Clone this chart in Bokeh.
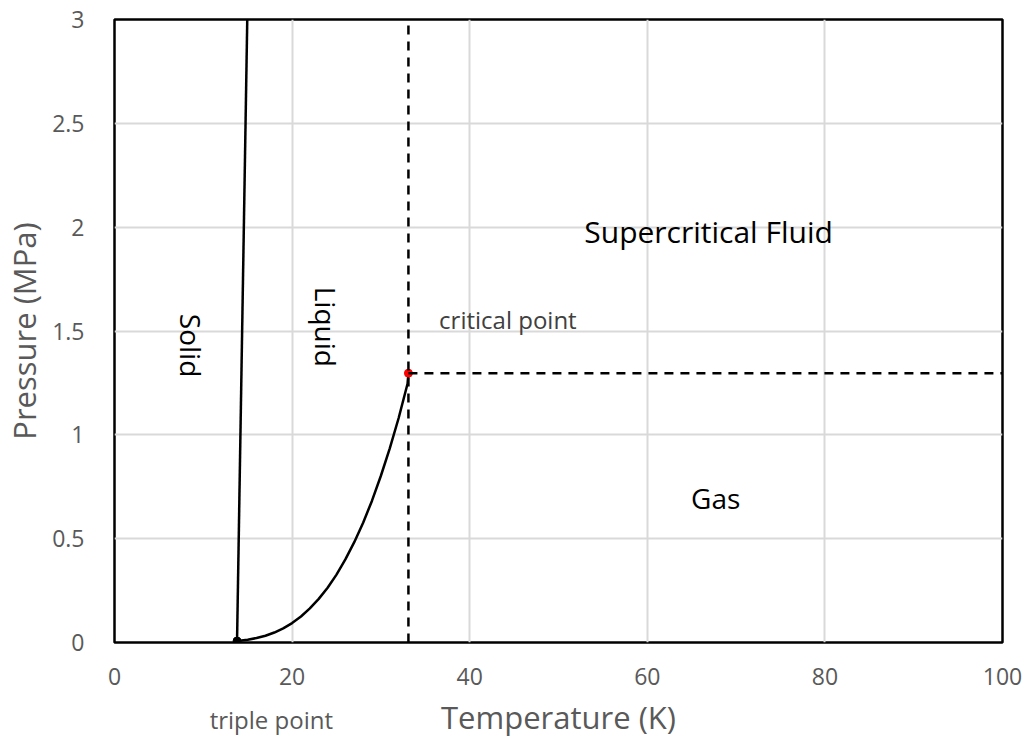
from bokeh.plotting import figure
from bokeh.models import Range1d, Label, FixedTicker, LinearAxis
from bokeh.embed import file_html
from bokeh.resources import INLINE
import math

# Data
melt_T = [13.8, 14.95]
melt_P = [0.007, 3.0]
vap_T = [13.8, 15, 16, 17, 18, 19, 20, 21, 22, 23, 24, 25, 26, 27, 28, 29, 30, 31, 32, 33, 33.1]
vap_P = [0.007, 0.0134, 0.0215, 0.0327, 0.0481, 0.0681, 0.0935, 0.125, 0.164, 0.210, 0.264,
         0.327, 0.400, 0.483, 0.577, 0.683, 0.803, 0.935, 1.081, 1.246, 1.297]
triple_T, triple_P = 13.8, 0.007
crit_T, crit_P = 33.1, 1.297
x_ticks = [0, 20, 40, 60, 80, 100]
y_ticks = [0, 0.5, 1, 1.5, 2, 2.5, 3]
triple_label_T = 17.66

FONT = "Open Sans"
GRAY = "#595959"

p = figure(width=1028, height=740, output_backend="svg", toolbar_location=None,
           x_range=Range1d(0, 100), y_range=Range1d(0, 3),
           min_border_left=113, min_border_right=26, min_border_top=19, min_border_bottom=98)
p.outline_line_color = "black"
p.outline_line_width = 2.5
p.background_fill_color = "white"
p.border_fill_color = "white"

# second bottom axis carrying "triple point" and the axis title on the same row
xaxis2 = LinearAxis(ticker=FixedTicker(ticks=[triple_label_T]),
                    major_label_overrides={triple_label_T: "triple point"})
p.add_layout(xaxis2, "below")

for ax in (p.xaxis[0], p.yaxis[0], xaxis2):
    ax.axis_line_color = None
    ax.major_tick_line_color = None
    ax.minor_tick_line_color = None
    ax.major_label_text_font = FONT
    ax.major_label_text_font_size = "23px"
    ax.major_label_text_color = GRAY
    ax.axis_label_text_font = FONT
    ax.axis_label_text_font_size = "31px"
    ax.axis_label_text_font_style = "normal"
    ax.axis_label_text_color = GRAY

xaxis2.major_label_text_font_size = "24px"
p.xaxis[0].ticker = FixedTicker(ticks=x_ticks)
p.yaxis.ticker = FixedTicker(ticks=y_ticks)
p.yaxis.major_label_overrides = {0: "0", 0.5: "0.5", 1: "1", 1.5: "1.5", 2: "2", 2.5: "2.5", 3: "3"}
xaxis2.axis_label = "Temperature (K)"
p.yaxis.axis_label = "Pressure (MPa)"
p.xaxis[0].major_label_standoff = 19
p.yaxis.major_label_standoff = 24
xaxis2.major_label_standoff = 9
xaxis2.axis_label_standoff = -43
p.yaxis.axis_label_standoff = 4

p.xgrid.ticker = FixedTicker(ticks=x_ticks)
p.ygrid.ticker = FixedTicker(ticks=y_ticks)
p.grid.grid_line_color = "#d9d9d9"
p.grid.grid_line_width = 2

# Curves
p.line(melt_T, melt_P, line_color="black", line_width=2.5)
p.line(vap_T, vap_P, line_color="black", line_width=2.5)
p.scatter([crit_T], [crit_P], size=8, color="red")
p.line([crit_T, crit_T], [0, 3], line_color="black", line_width=2.5, line_dash="9 7")
p.line([crit_T, 100], [crit_P, crit_P], line_color="black", line_width=2.5, line_dash="9 7")
p.scatter([triple_T], [triple_P], size=8, color="black")

def lab(x, y, text, size, color="black", angle=0.0):
    p.add_layout(Label(x=x, y=y, text=text, text_font=FONT, text_font_size=size,
                       text_color=color, angle=angle, text_align="center",
                       text_baseline="middle"))

lab(8.66, 1.43, "Solid", "28px", angle=-math.pi / 2)
lab(23.85, 1.52, "Liquid", "28px", angle=-math.pi / 2)
lab(44.3, 1.553, "critical point", "24px", color="#404040")
lab(66.9, 1.978, "Supercritical Fluid", "30px")
lab(67.7, 0.695, "Gas", "28px")

open("out.html", "w").write(file_html(p, INLINE))
